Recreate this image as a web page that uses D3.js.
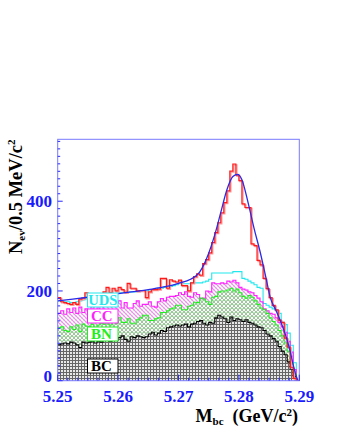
<!DOCTYPE html>
<html><head><meta charset="utf-8">
<script src="https://cdn.jsdelivr.net/npm/d3@7/dist/d3.min.js"></script>
<style>
html,body{margin:0;padding:0;background:#fff;}
svg{display:block;}
text{font-family:"Liberation Serif","Times New Roman",serif;font-weight:bold;}
</style></head>
<body>
<svg id="chart" width="337" height="436"></svg>
<script>
// ---- data ----
const binStart = 5.25, binWidth = 0.0005, nBins = 80;
const xTicks = [5.25, 5.26, 5.27, 5.28, 5.29];
const yTicks = [0, 200, 400];

// data histogram (events per bin)
const dataCounts = [185,176,174,172,170,174,170,182,184,196,180,188,186,190,194,198,208,196,206,200,
  208,203,197,217,206,206,200,201,201,185,198,203,203,204,228,228,206,225,222,220,
  224,212,212,200,218,232,238,235,261,270,285,308,330,352,374,397,423,467,483,458,
  446,394,386,386,305,301,268,258,228,205,185,168,158,135,130,95,75,30,5,0];
// stacked background levels (top of each component)
const bcTop = [80,82,84,82,86,84,80,74,86,84,86,88,84,88,86,90,92,88,94,90,
  96,100,92,88,98,96,100,98,96,98,104,108,102,106,112,110,118,120,122,124,
  122,124,126,120,126,128,132,134,128,124,130,128,140,146,142,138,130,142,134,138,
  136,132,136,130,128,124,120,118,112,104,100,94,88,76,66,58,42,26,10,0];
const bnTop = [118,120,112,110,120,114,124,110,126,122,120,126,118,124,128,126,130,124,132,128,
  140,130,130,138,128,128,136,140,146,146,134,134,138,140,152,152,156,160,162,168,
  168,158,158,166,168,175,174,184,182,176,170,186,188,198,200,200,202,206,200,204,
  196,188,184,190,186,178,170,162,158,150,140,132,124,112,100,84,66,40,15,0];
const ccTop = [150,156,148,160,152,162,150,164,152,160,154,166,156,162,158,166,170,168,176,172,
  178,162,174,162,162,172,178,166,170,170,176,166,164,176,183,178,186,188,188,190,
  196,192,198,188,186,196,192,183,184,200,198,218,216,216,218,216,222,220,224,218,
  208,204,202,198,196,190,184,176,160,156,150,148,140,130,120,108,88,64,25,0];
const udsTop = [178,176,176,176,174,174,176,178,180,182,182,184,186,186,190,190,192,192,194,194,
  196,196,196,198,198,198,200,200,200,200,202,202,204,206,206,208,210,210,212,214,
  216,216,216,216,218,218,218,218,220,222,226,240,240,240,240,240,240,240,243,243,
  243,228,226,222,218,214,208,206,172,168,164,160,157,150,130,125,106,79,40,0];
// fitted curve, read at points along it
const fitX = [5.2500,5.2550,5.2600,5.2650,5.2680,5.2700,5.2720,5.2735,5.2750,5.2760,5.2770,5.2780,5.2790,5.2798,5.2805,5.2815,5.2825,5.2835,5.2845,5.2852,5.2862,5.2872,5.2880,5.2885,5.2890,5.2895,5.2898];
const fitY = [178,186,194,203,210,217,226,242,284,325,375,425,455,460,448,398,340,288,228,185,155,122,90,65,35,10,0];

const legendLabels = ["UDS","CC","BN","BC"];
const legendColors = ["#22e8ee","#ff22ff","#22ee22","#000000"];

// ---- layout ----
const svg = d3.select("#chart");
const X0 = 57.7, X1 = 299.3, Y0 = 380.7, Y1 = 139.3;
const x = d3.scaleLinear().domain([5.25, 5.29]).range([X0, X1]);
const y = d3.scaleLinear().domain([0, 538]).range([Y0, Y1]);

const edges = d3.range(nBins + 1).map(i => binStart + i * binWidth);

// patterns
const defs = svg.append("defs");
const pBC = defs.append("pattern").attr("id","pBC").attr("patternUnits","userSpaceOnUse").attr("width",3).attr("height",3);
pBC.append("rect").attr("width",3).attr("height",3).attr("fill","#e8e8e8");
pBC.append("path").attr("d","M0 0.5H3M0.5 0V3").attr("stroke","#666").attr("stroke-width",1);
const pBN = defs.append("pattern").attr("id","pBN").attr("patternUnits","userSpaceOnUse").attr("width",4).attr("height",4);
pBN.append("rect").attr("width",4).attr("height",4).attr("fill","#f4fff4");
pBN.append("path").attr("d","M0 0L4 4M4 0L0 4").attr("stroke","#a8c0a8").attr("stroke-width",1);
pBN.append("rect").attr("x",1.5).attr("y",0).attr("width",1).attr("height",1).attr("fill","#7fe07f");
const pCC = defs.append("pattern").attr("id","pCC").attr("patternUnits","userSpaceOnUse").attr("width",4).attr("height",4);
pCC.append("rect").attr("width",4).attr("height",4).attr("fill","#fff");
pCC.append("path").attr("d","M0 0L4 4M-1 3L1 5M3 -1L5 1").attr("stroke","#f088f0").attr("stroke-width",1.1);
pCC.append("path").attr("d","M4 0L0 4").attr("stroke","#d0d0d0").attr("stroke-width",0.6);

const plot = svg.append("g");
const clip = defs.append("clipPath").attr("id","clip");
clip.append("rect").attr("x",X0).attr("y",Y1).attr("width",X1-X0).attr("height",Y0-Y1);
plot.attr("clip-path","url(#clip)");

function pts(lo, hi) {
  const p = edges.slice(0, nBins).map((e,i) => ({x:e, lo: lo ? lo[i] : 0, hi: hi[i]}));
  p.push({x: edges[nBins], lo: lo ? lo[nBins-1] : 0, hi: hi[nBins-1]});
  return p;
}
const area = d3.area().curve(d3.curveStepAfter).x(d => x(d.x)).y0(d => y(d.lo)).y1(d => y(d.hi));
const line = d3.line().curve(d3.curveStepAfter).x(d => x(d.x)).y(d => y(d.hi));

plot.append("path").datum(pts(null, bcTop)).attr("d", area).attr("fill","url(#pBC)");
plot.append("path").datum(pts(bcTop, bnTop)).attr("d", area).attr("fill","url(#pBN)");
plot.append("path").datum(pts(bnTop, ccTop)).attr("d", area).attr("fill","url(#pCC)");

const outlines = [[udsTop,legendColors[0]],[ccTop,legendColors[1]],[bnTop,legendColors[2]],[bcTop,legendColors[3]]];
outlines.forEach(([arr,col]) => {
  plot.append("path").datum(pts(null, arr)).attr("d", line)
    .attr("fill","none").attr("stroke",col).attr("stroke-width",1.1);
});

// data histogram (with light shadow)
plot.append("path").datum(pts(null, dataCounts)).attr("d", line)
  .attr("transform","translate(1,1)")
  .attr("fill","none").attr("stroke","#ff9a9a").attr("stroke-width",1.4);
plot.append("path").datum(pts(null, dataCounts)).attr("d", line)
  .attr("fill","none").attr("stroke","#ff1a1a").attr("stroke-width",1.2);

// fit curve
plot.append("path").datum(fitX.map((v,i)=>[v,fitY[i]]))
  .attr("d", d3.line().curve(d3.curveMonotoneX).x(d=>x(d[0])).y(d=>y(d[1])))
  .attr("fill","none").attr("stroke","#2a2ae8").attr("stroke-width",1.3);

// legend boxes
const boxY = [293, 309, 327, 359];
legendLabels.forEach((lab,i) => {
  svg.append("rect").attr("x",87.5).attr("y",boxY[i]).attr("width",30.5).attr("height",14)
    .attr("fill","#fff").attr("stroke",legendColors[i]).attr("stroke-width",1);
  svg.append("text").attr("x", i===0 ? 88.3 : 91).attr("y", boxY[i]+12.3)
    .attr("font-size",i===0 ? 14.5 : 15).attr("fill",legendColors[i]).text(lab);
});

// frame
svg.append("rect").attr("x",X0).attr("y",Y1).attr("width",X1-X0).attr("height",Y0-Y1)
  .attr("fill","none").attr("stroke","#7a7aff").attr("stroke-width",1);

// ticks
const tickCol = "#2a2aff";
const yMinor = d3.range(0, 538, 200/12);
yMinor.forEach(v => {
  const major = yTicks.some(t => Math.abs(t - v) < 1e-6);
  svg.append("line").attr("x1",X0).attr("x2",X0 + (major ? 5 : 2.5))
    .attr("y1",y(v)).attr("y2",y(v)).attr("stroke",tickCol).attr("stroke-width",1);
});
const xMinor = d3.range(0, 25).map(i => 5.25 + i * 0.01/6);
xMinor.forEach((v,i) => {
  const major = i % 6 === 0;
  svg.append("line").attr("x1",x(v)).attr("x2",x(v))
    .attr("y1",Y0).attr("y2",Y0 - (major ? 6 : 3)).attr("stroke",tickCol).attr("stroke-width",1);
});

// tick labels
svg.append("g").selectAll("text").data(yTicks).join("text")
  .attr("x",52).attr("y",d=>d===0 ? 382 : y(d) + 6).attr("text-anchor","end")
  .attr("font-size",17).attr("fill","#1a1aff").text(d=>d);
svg.append("g").selectAll("text").data(xTicks).join("text")
  .attr("x",d=>x(d)).attr("y",401.5).attr("text-anchor","middle")
  .attr("font-size",17).attr("fill","#1a1aff").text(d=>d.toFixed(2));

// axis titles
const xt = svg.append("text").attr("x",298).attr("y",422).attr("text-anchor","end")
  .attr("font-size",18).attr("fill","#000");
xt.append("tspan").text("M");
xt.append("tspan").attr("font-size",11).attr("dy",3).text("bc");
xt.append("tspan").attr("dy",-3).text("\u00a0\u00a0(GeV/c");
xt.append("tspan").attr("font-size",11).attr("dy",-6).text("2");
xt.append("tspan").attr("dy",6).text(")");

const yt = svg.append("text").attr("transform","translate(22,254) rotate(-90)")
  .attr("font-size",18.5).attr("fill","#000");
yt.append("tspan").text("N");
yt.append("tspan").attr("font-size",11).attr("dy",3).text("ev");
yt.append("tspan").attr("dy",-3).text("/0.5 MeV/c");
yt.append("tspan").attr("font-size",11).attr("dy",-7).text("2");
</script>
</body></html>
